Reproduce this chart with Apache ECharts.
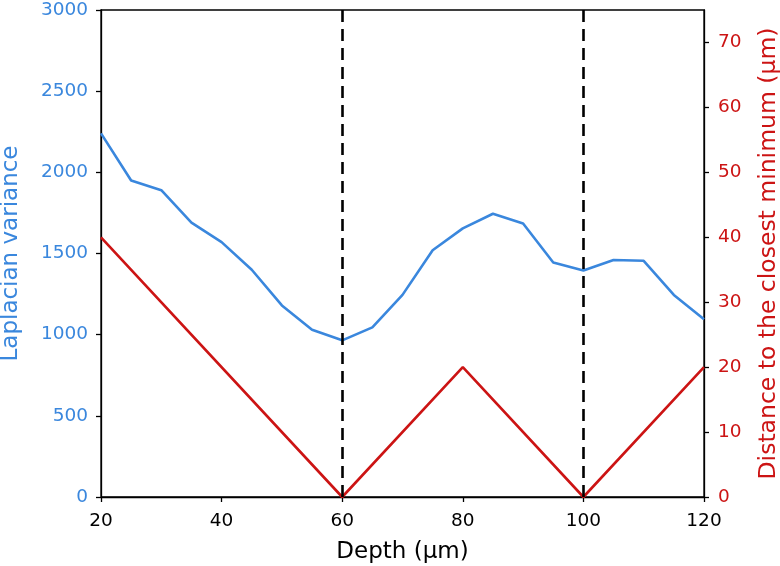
<!DOCTYPE html>
<html>
<head>
<meta charset="utf-8">
<script src="https://cdn.jsdelivr.net/npm/echarts@6/dist/echarts.min.js"></script>
<style>
  html, body { margin: 0; padding: 0; background: #fff; }
  #chart { width: 780px; height: 566px; }
</style>
</head>
<body>
<div id="chart"></div>
<script>
// depth positions (µm)
const depth = [20, 25, 30, 35, 40, 45, 50, 55, 60, 65, 70, 75, 80, 85, 90, 95, 100, 105, 110, 115, 120]
// laplacian variance
const lapVar = [2240, 1950, 1890, 1690, 1570, 1400, 1180, 1030, 965, 1045, 1245, 1520, 1655, 1745, 1685, 1445, 1395, 1460, 1455, 1245, 1095]
// distance to closest minimum
const distDepth = [20, 60, 80, 100, 120]
const distVal = [40, 0, 20, 0, 20]
const minima = [60, 100]
const rightTicks = [0, 10, 20, 30, 40, 50, 60, 70]

const blue = '#3a87dd'
const red = '#cc1414'
const font = 'DejaVu Sans'

const chart = echarts.init(document.getElementById('chart'))
chart.setOption({
  animation: false,
  textStyle: { fontFamily: font },
  grid: {
    left: 101, right: 76, top: 10, bottom: 69,
    outerBoundsMode: 'none',
    show: true, borderColor: '#000', borderWidth: 1.3
  },
  xAxis: {
    type: 'value', min: 20, max: 120, interval: 20,
    name: 'Depth (μm)', nameLocation: 'middle', nameGap: 44,
    nameTextStyle: { color: '#000', fontSize: 23, fontFamily: font },
    axisLine: { lineStyle: { color: '#000', width: 1.3 } },
    axisTick: { length: 5, lineStyle: { color: '#000', width: 1.3 } },
    axisLabel: { color: '#000', fontSize: 18.5, margin: 15 },
    splitLine: { show: false }
  },
  yAxis: [
    {
      type: 'value', min: 0, max: 3000, interval: 500, position: 'left',
      name: 'Laplacian variance', nameLocation: 'middle', nameGap: 78, nameRotate: 90,
      nameTextStyle: { color: blue, fontSize: 23, fontFamily: font },
      axisLine: { show: true, lineStyle: { color: '#000', width: 1.3 } },
      axisTick: { show: true, length: 5, lineStyle: { color: '#000', width: 1.3 } },
      axisLabel: { color: blue, fontSize: 18.5, margin: 13, formatter: v => String(v) },
      splitLine: { show: false }
    },
    {
      type: 'value', min: 0, max: 75, position: 'right',
      name: 'Distance to the closest minimum (μm)', nameLocation: 'middle', nameGap: 53, nameRotate: 90,
      nameTextStyle: { color: red, fontSize: 23.5, fontFamily: font },
      axisLine: { show: true, lineStyle: { color: '#000', width: 1.3 } },
      axisTick: { show: true, length: 5, lineStyle: { color: '#000', width: 1.3 }, customValues: rightTicks },
      axisLabel: { color: red, fontSize: 18.5, margin: 14, customValues: rightTicks },
      splitLine: { show: false }
    }
  ],
  series: [
    {
      name: 'Laplacian variance',
      type: 'line',
      yAxisIndex: 0,
      data: depth.map((d, i) => [d, lapVar[i]]),
      symbol: 'none',
      lineStyle: { color: blue, width: 2.6 },
      z: 3
    },
    {
      name: 'Distance',
      type: 'line',
      yAxisIndex: 1,
      data: distDepth.map((d, i) => [d, distVal[i]]),
      symbol: 'none',
      lineStyle: { color: red, width: 2.6 },
      z: 3,
      markLine: {
        silent: true,
        symbol: 'none',
        label: { show: false },
        lineStyle: { color: '#000', type: [12, 7], width: 2.6 },
        data: minima.map(m => ({ xAxis: m }))
      }
    }
  ]
})
</script>
</body>
</html>
